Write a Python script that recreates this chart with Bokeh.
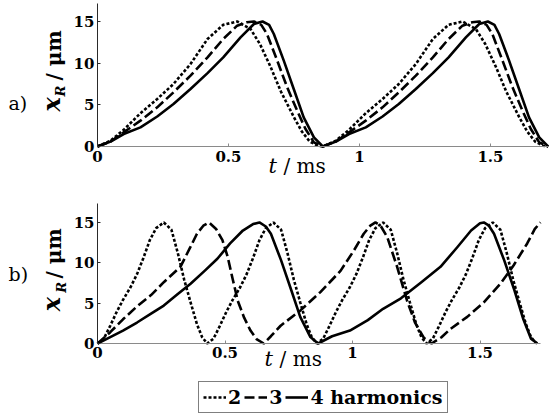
from bokeh.plotting import figure
from bokeh.models import Range1d, FixedTicker, Label, Legend, LegendItem
from bokeh.layouts import column
from bokeh.embed import file_html
from bokeh.resources import INLINE

# ---------------- data ----------------
x_ticks = [0, 0.5, 1, 1.5]
x_tick_labels = ["0", "0.5", "1", "1.5"]
y_ticks = [0, 5, 10, 15]
legend_labels = ["2", "3", "4 harmonics"]

# panel a) : all three at the same base period
a_t_h2 = [0, 0.05, 0.10, 0.164, 0.228, 0.29, 0.355, 0.42, 0.48, 0.533, 0.584, 0.62, 0.66, 0.70, 0.75, 0.78, 0.81, 0.84, 0.86,
          0.91, 0.96, 1.024, 1.088, 1.15, 1.215, 1.28, 1.34, 1.393, 1.444, 1.48, 1.52, 1.56, 1.61, 1.64, 1.67, 1.70, 1.72]
a_x_h2 = [0, 0.7, 2.0, 4.0, 5.7, 7.5, 9.9, 12.9, 14.6, 15.0, 14.1, 12.3, 9.6, 6.6, 3.5, 1.8, 0.6, 0.1, 0,
          0.7, 2.0, 4.0, 5.7, 7.5, 9.9, 12.9, 14.6, 15.0, 14.1, 12.3, 9.6, 6.6, 3.5, 1.8, 0.6, 0.1, 0]

a_t_h3 = [0, 0.05, 0.10, 0.164, 0.228, 0.29, 0.355, 0.42, 0.48, 0.533, 0.57, 0.597, 0.625, 0.647, 0.686, 0.724, 0.762, 0.794, 0.826, 0.86,
          0.91, 0.96, 1.024, 1.088, 1.15, 1.215, 1.28, 1.34, 1.393, 1.43, 1.457, 1.485, 1.507, 1.546, 1.584, 1.622, 1.654, 1.686, 1.72]
a_x_h3 = [0, 0.6, 1.7, 3.1, 4.7, 6.5, 8.5, 10.7, 12.9, 14.5, 14.9, 15.0, 14.6, 13.5, 10.3, 7.1, 4.3, 2.1, 0.5, 0,
          0.6, 1.7, 3.1, 4.7, 6.5, 8.5, 10.7, 12.9, 14.5, 14.9, 15.0, 14.6, 13.5, 10.3, 7.1, 4.3, 2.1, 0.5, 0]

a_t_h4 = [0, 0.05, 0.10, 0.164, 0.228, 0.29, 0.355, 0.42, 0.48, 0.546, 0.597, 0.63, 0.655, 0.673, 0.711, 0.749, 0.787, 0.826, 0.86,
          0.91, 0.96, 1.024, 1.088, 1.15, 1.215, 1.28, 1.34, 1.406, 1.457, 1.49, 1.515, 1.533, 1.571, 1.609, 1.647, 1.686, 1.72]
a_x_h4 = [0, 0.6, 1.5, 2.3, 3.6, 5.1, 6.9, 8.8, 10.7, 13.1, 14.7, 15.0, 14.6, 13.5, 10.3, 6.9, 3.5, 1.1, 0,
          0.6, 1.5, 2.3, 3.6, 5.1, 6.9, 8.8, 10.7, 13.1, 14.7, 15.0, 14.6, 13.5, 10.3, 6.9, 3.5, 1.1, 0]

# panel b) : different periods
b_t_h2 = [0, 0.025, 0.05, 0.075, 0.10, 0.13, 0.155, 0.18, 0.205, 0.23, 0.26, 0.29, 0.315, 0.34, 0.365, 0.39, 0.41, 0.43,
          0.455, 0.48, 0.505, 0.53, 0.56, 0.585, 0.61, 0.635, 0.66, 0.69, 0.72, 0.745, 0.77, 0.795, 0.82, 0.84, 0.86,
          0.885, 0.91, 0.935, 0.96, 0.99, 1.015, 1.04, 1.065, 1.09, 1.12, 1.15, 1.175, 1.20, 1.225, 1.25, 1.27, 1.29,
          1.315, 1.34, 1.365, 1.39, 1.42, 1.445, 1.47, 1.495, 1.52, 1.55, 1.58, 1.605, 1.63, 1.655, 1.68, 1.70, 1.72]
b_x_h2 = [0, 0.6, 2.2, 3.9, 5.4, 7.0, 8.6, 10.6, 12.8, 14.3, 15.0, 14.1, 11.2, 7.9, 5.1, 2.4, 0.8, 0,
          0.6, 2.2, 3.9, 5.4, 7.0, 8.6, 10.6, 12.8, 14.3, 15.0, 14.1, 11.2, 7.9, 5.1, 2.4, 0.8, 0,
          0.6, 2.2, 3.9, 5.4, 7.0, 8.6, 10.6, 12.8, 14.3, 15.0, 14.1, 11.2, 7.9, 5.1, 2.4, 0.8, 0,
          0.6, 2.2, 3.9, 5.4, 7.0, 8.6, 10.6, 12.8, 14.3, 15.0, 14.1, 11.2, 7.9, 5.1, 2.4, 0.8, 0]

b_t_h3 = [0, 0.05, 0.10, 0.155, 0.21, 0.26, 0.325, 0.365, 0.39, 0.415, 0.437, 0.465, 0.49, 0.51, 0.53, 0.55, 0.575, 0.60, 0.625, 0.652,
          0.68, 0.718, 0.796, 0.875, 0.953, 1.005, 1.044, 1.07, 1.09, 1.11, 1.136, 1.175, 1.214, 1.245, 1.28, 1.31,
          1.35, 1.384, 1.45, 1.515, 1.58, 1.632, 1.685, 1.715, 1.737]
b_x_h3 = [0, 1.4, 3.0, 4.6, 6.0, 7.6, 9.5, 12.0, 13.6, 14.6, 15.0, 14.2, 12.8, 10.8, 8.0, 5.3, 3.2, 1.6, 0.5, 0,
          0.9, 2.2, 4.1, 6.4, 9.0, 11.5, 13.6, 14.6, 15.0, 14.6, 13.2, 9.5, 5.3, 2.6, 0.7, 0,
          0.8, 1.8, 3.3, 5.1, 7.4, 9.7, 12.4, 14.2, 15.0]

b_t_h4 = [0, 0.05, 0.10, 0.155, 0.21, 0.26, 0.31, 0.365, 0.42, 0.47, 0.52, 0.57, 0.61, 0.635, 0.66, 0.68, 0.72, 0.76, 0.795, 0.835, 0.865,
          0.92, 0.99, 1.06, 1.12, 1.19, 1.27, 1.345, 1.41, 1.465, 1.50, 1.515, 1.535, 1.555, 1.595, 1.635, 1.67, 1.70, 1.725]
b_x_h4 = [0, 0.8, 1.6, 2.6, 3.7, 4.7, 6.0, 7.4, 9.0, 10.5, 12.4, 14.0, 14.8, 15.0, 14.5, 13.6, 10.3, 6.6, 3.3, 0.8, 0,
          0.9, 1.6, 2.9, 4.3, 5.6, 7.6, 9.5, 11.9, 14.0, 14.9, 15.0, 14.6, 13.6, 10.3, 6.6, 3.0, 0.6, 0]

# ---------------- styling ----------------
FONT = "DejaVu Serif"
LW = 2.6
styles = [dict(line_dash="3 2", line_cap="butt"),
          dict(line_dash="10 4", line_cap="butt"),
          dict(line_dash="solid", line_join="round")]


def make_panel(height, xr, yr, xbounds, ybounds):
    p = figure(width=549, height=height, x_range=Range1d(*xr), y_range=Range1d(*yr),
               output_backend="svg", toolbar_location=None,
               min_border_left=0, min_border_right=0, min_border_top=0, min_border_bottom=0)
    p.outline_line_color = None
    p.grid.visible = False
    p.background_fill_color = "white"
    p.border_fill_color = "white"
    for ax, col, b in ((p.xaxis[0], "#8a8a8a", xbounds), (p.yaxis[0], "#2a2a2a", ybounds)):
        ax.fixed_location = 0
        ax.bounds = b
        ax.axis_line_color = col
        ax.axis_line_width = 1
        ax.major_tick_line_color = col
        ax.major_tick_in = 3
        ax.major_tick_out = 0
        ax.minor_tick_line_color = None
        ax.major_label_text_font = FONT
        ax.major_label_text_font_style = "bold"
        ax.major_label_text_font_size = "15px"
        ax.major_label_text_color = "black"
    p.xaxis.ticker = FixedTicker(ticks=x_ticks)
    p.xaxis.major_label_overrides = {t: s for t, s in zip(x_ticks, x_tick_labels)}
    p.xaxis.major_label_standoff = 4
    p.yaxis.ticker = FixedTicker(ticks=y_ticks)
    p.yaxis.major_label_standoff = 3
    return p


def add_labels(p, tag, tag_pos, ylab_pos, xlab_pos):
    p.add_layout(Label(x=tag_pos[0], y=tag_pos[1], text=tag, text_font=FONT,
                       text_font_size="19px", text_color="black"))
    (xx, yx), (xr, yr), (xs, ys) = ylab_pos
    p.add_layout(Label(x=xx, y=yx, text="x", angle=1.5708, text_font=FONT, text_font_style="bold italic",
                       text_font_size="24px", text_color="black"))
    p.add_layout(Label(x=xr, y=yr, text="R", angle=1.5708, text_font=FONT, text_font_style="bold italic",
                       text_font_size="13px", text_color="black"))
    p.add_layout(Label(x=xs, y=ys, text="/ μm", angle=1.5708, text_font=FONT, text_font_style="bold",
                       text_font_size="20px", text_color="black"))
    (xt, yt), (xm, ym) = xlab_pos
    p.add_layout(Label(x=xt, y=yt, text="t", text_font=FONT, text_font_style="italic",
                       text_font_size="21px", text_color="black"))
    p.add_layout(Label(x=xm, y=ym, text="/ ms", text_font=FONT,
                       text_font_size="20px", text_color="black"))


# ---------- panel a ----------
p1 = make_panel(188, (-0.3702, 1.7252), (-5.04, 17.52), (0, 1.725), (0, 17.2))
for (t, xv), st in zip([(a_t_h2, a_x_h2), (a_t_h3, a_x_h3), (a_t_h4, a_x_h4)], styles):
    p1.line(t, xv, line_color="black", line_width=LW, **st)
add_labels(p1, "a)", (-0.3397, 3.96),
           [(-0.1183, 4.2), (-0.1107, 6.0), (-0.1183, 7.92)],
           [(0.6527, -3.72), (0.7099, -3.72)])

# ---------- panel b (with legend strip underneath) ----------
p2 = make_panel(226, (-0.3804, 1.7725), (-8.80, 19.21), (0, 1.737), (0, 17.35))
rends = []
for (t, xv), st in zip([(b_t_h2, b_x_h2), (b_t_h3, b_x_h3), (b_t_h4, b_x_h4)], styles):
    rends.append(p2.line(t, xv, line_color="black", line_width=LW, **st))
add_labels(p2, "b)", (-0.349, 7.19),
           [(-0.1216, 4.0), (-0.1137, 6.3), (-0.1216, 8.06)],
           [(0.655, -3.35), (0.714, -3.35)])

leg = Legend(items=[LegendItem(label=lab, renderers=[r]) for lab, r in zip(legend_labels, rends)],
             orientation="horizontal", location=(198, 1),
             label_text_font=FONT, label_text_font_style="bold", label_text_font_size="19px",
             label_text_color="black", label_standoff=2, label_height=22, label_width=0,
             glyph_width=23, glyph_height=22, spacing=3, padding=4, margin=0,
             border_line_color="black", border_line_width=1, background_fill_alpha=1)
p2.add_layout(leg, "center")

layout = column(p1, p2, spacing=0)
open("out.html", "w").write(file_html(layout, INLINE))
